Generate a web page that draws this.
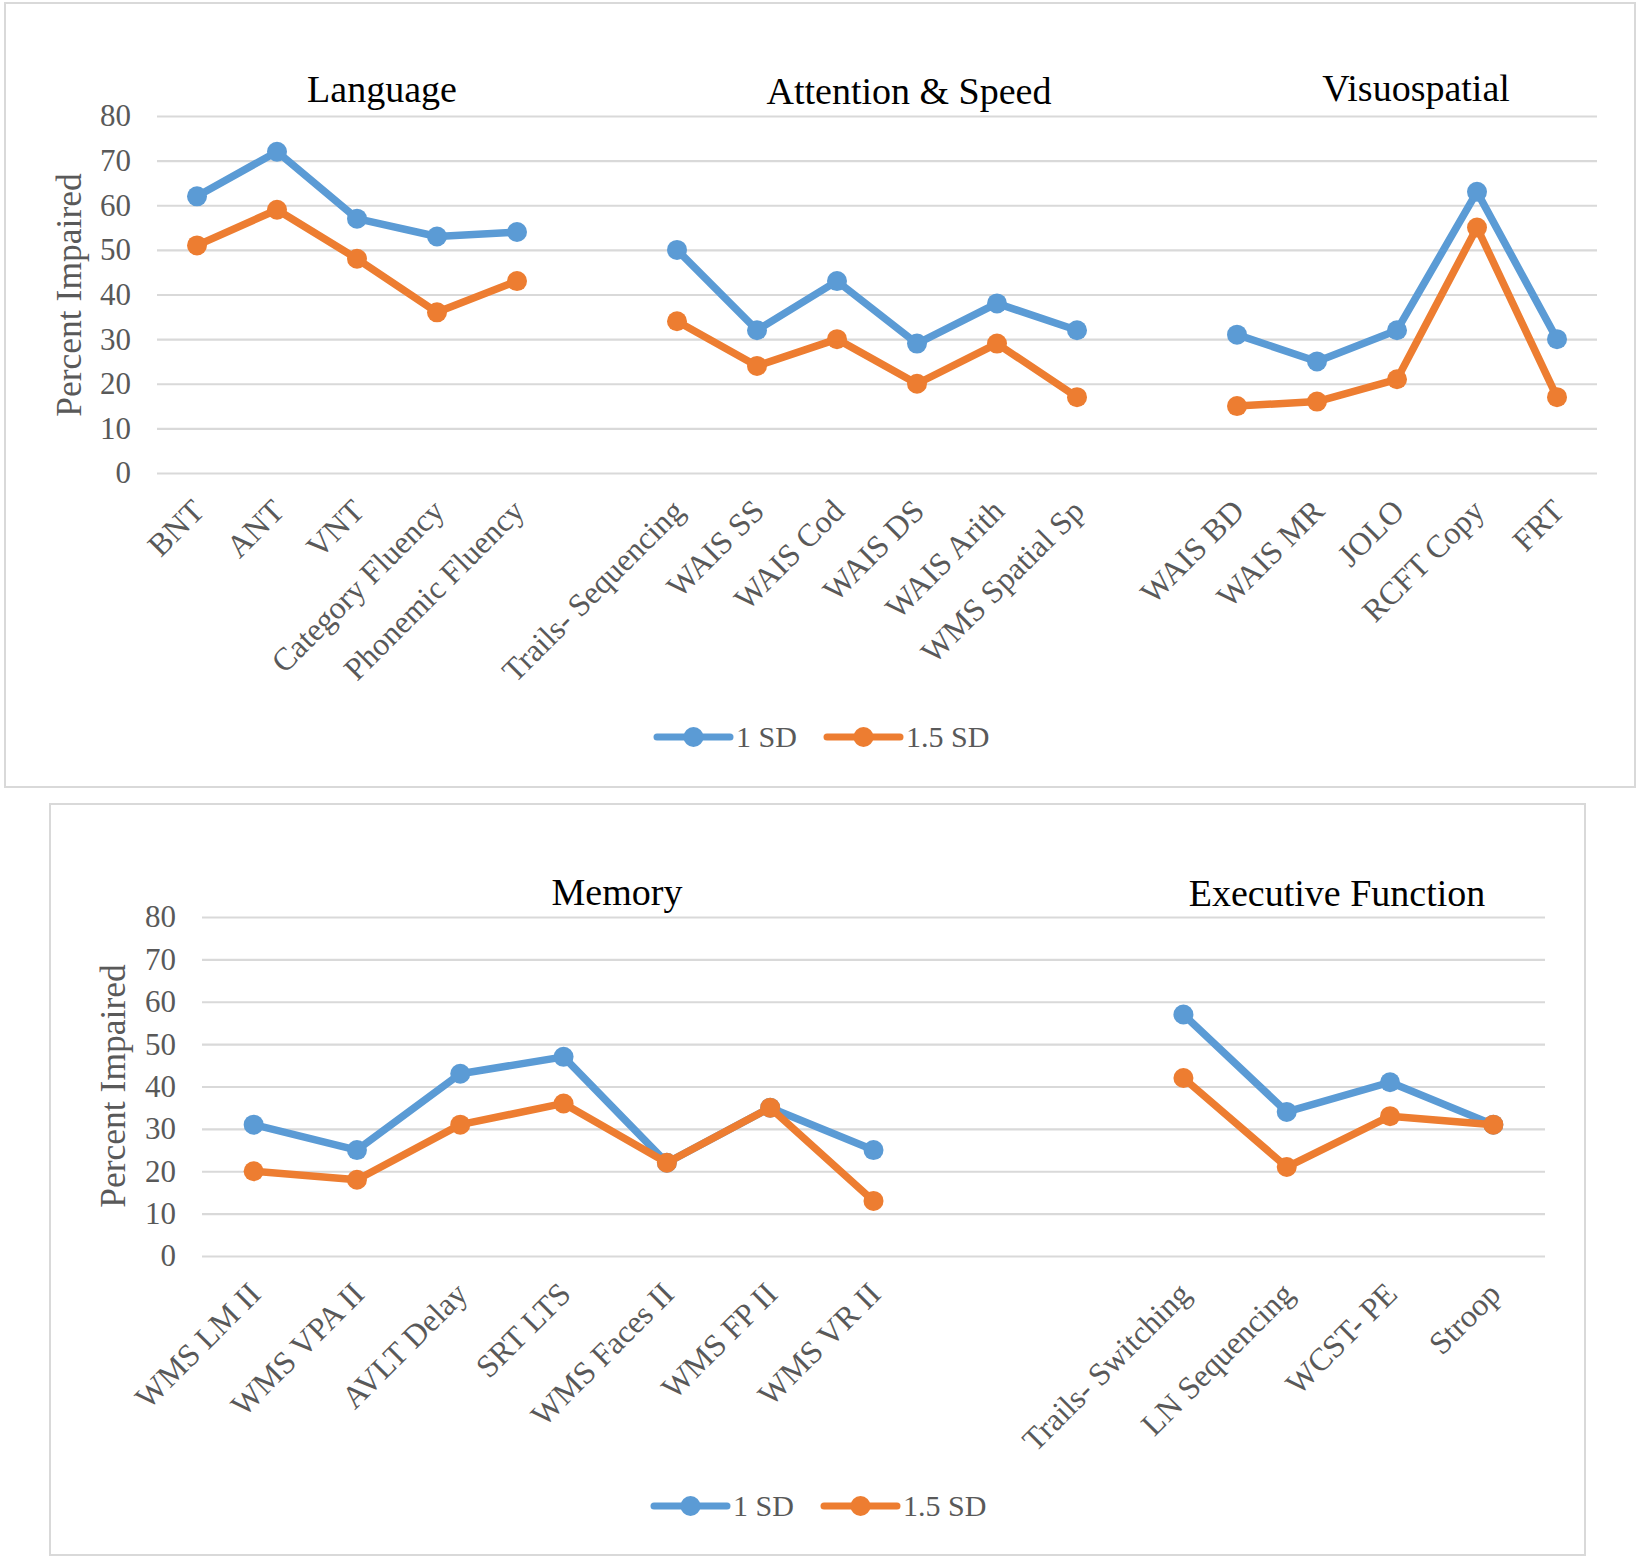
<!DOCTYPE html>
<html>
<head>
<meta charset="utf-8">
<script src="https://cdn.jsdelivr.net/npm/d3@7"></script>
<style>
  body { margin: 0; background: #fff; }
  text { font-family: 'Liberation Serif', 'Times New Roman', serif; }
</style>
</head>
<body>
<div id="chart"></div>
<script>
// test names and percent impaired per domain
const languageTests = ['BNT', 'ANT', 'VNT', 'Category Fluency', 'Phonemic Fluency']
const language1SD = [62, 72, 57, 53, 54]
const language15SD = [51, 59, 48, 36, 43]

const attentionTests = ['Trails- Sequencing', 'WAIS SS', 'WAIS Cod', 'WAIS DS', 'WAIS Arith', 'WMS Spatial Sp']
const attention1SD = [50, 32, 43, 29, 38, 32]
const attention15SD = [34, 24, 30, 20, 29, 17]

const visuoTests = ['WAIS BD', 'WAIS MR', 'JOLO', 'RCFT Copy', 'FRT']
const visuo1SD = [31, 25, 32, 63, 30]
const visuo15SD = [15, 16, 21, 55, 17]

const memoryTests = ['WMS LM II', 'WMS VPA II', 'AVLT Delay', 'SRT LTS', 'WMS Faces II', 'WMS FP II', 'WMS VR II']
const memory1SD = [31, 25, 43, 47, 22, 35, 25]
const memory15SD = [20, 18, 31, 36, 22, 35, 13]

const executiveTests = ['Trails- Switching', 'LN Sequencing', 'WCST- PE', 'Stroop']
const executive1SD = [57, 34, 41, 31]
const executive15SD = [42, 21, 33, 31]

const seriesNames = ['1 SD', '1.5 SD']
const yTicks = [0, 10, 20, 30, 40, 50, 60, 70, 80]

const colors = ['#5b9bd5', '#ed7d31']
const textGrey = '#595959'

const svg = d3
  .select('#chart')
  .append('svg')
  .attr('width', 1640)
  .attr('height', 1560)

const panels = [
  {
    frame: { x: 5, y: 3, w: 1630, h: 784 },
    plot: { left: 157, right: 1597, top: 116, bottom: 473 },
    gapSlots: 1,
    yLabel: { x: 81, y: 295 },
    legend: { x: 657, y: 737 },
    groups: [
      { title: 'Language', tx: 382, ty: 102, tests: languageTests, values: [language1SD, language15SD] },
      { title: 'Attention & Speed', tx: 909, ty: 104, tests: attentionTests, values: [attention1SD, attention15SD] },
      { title: 'Visuospatial', tx: 1416, ty: 101, tests: visuoTests, values: [visuo1SD, visuo15SD] }
    ]
  },
  {
    frame: { x: 50, y: 804, w: 1535, h: 751 },
    plot: { left: 202, right: 1545, top: 917, bottom: 1256 },
    gapSlots: 2,
    yLabel: { x: 125, y: 1086 },
    legend: { x: 654, y: 1506 },
    groups: [
      { title: 'Memory', tx: 617, ty: 905, tests: memoryTests, values: [memory1SD, memory15SD] },
      { title: 'Executive Function', tx: 1337, ty: 906, tests: executiveTests, values: [executive1SD, executive15SD] }
    ]
  }
]

panels.forEach(drawPanel)

function drawPanel(p) {
  svg
    .append('rect')
    .attr('x', p.frame.x)
    .attr('y', p.frame.y)
    .attr('width', p.frame.w)
    .attr('height', p.frame.h)
    .attr('fill', 'none')
    .attr('stroke', '#d9d9d9')
    .attr('stroke-width', 2)

  // slots: tests with blank slots between the domains
  const slots = []
  p.groups.forEach((g, i) => {
    if (i > 0) {
      for (let k = 0; k < p.gapSlots; k++) slots.push('_gap' + i + '_' + k)
    }
    g.tests.forEach(t => slots.push(t))
  })

  const xPositionScale = d3
    .scaleBand()
    .domain(slots)
    .range([p.plot.left, p.plot.right])
  const yPositionScale = d3
    .scaleLinear()
    .domain([0, 80])
    .range([p.plot.bottom, p.plot.top])

  const cx = d => xPositionScale(d) + xPositionScale.bandwidth() / 2

  const yAxis = d3
    .axisLeft(yPositionScale)
    .tickValues(yTicks)
    .tickSize(-(p.plot.right - p.plot.left))
    .tickPadding(26)
  const yg = svg
    .append('g')
    .attr('class', 'axis y-axis')
    .attr('transform', 'translate(' + p.plot.left + ',0)')
    .call(yAxis)
  yg.select('.domain').remove()
  yg.selectAll('line').attr('stroke', '#d9d9d9').attr('stroke-width', 2.2)
  yg.selectAll('text')
    .attr('font-size', 31)
    .attr('fill', textGrey)
    .style('font-family', "'Liberation Serif', serif")

  const xAxis = d3
    .axisBottom(xPositionScale)
    .tickSize(0)
    .tickFormat(d => (d.startsWith('_gap') ? '' : d))
  const xg = svg
    .append('g')
    .attr('class', 'axis x-axis')
    .attr('transform', 'translate(0,' + p.plot.bottom + ')')
    .call(xAxis)
  xg.select('.domain').remove()
  xg.selectAll('text')
    .attr('x', 0)
    .attr('y', 0)
    .attr('dy', 0)
    .attr('transform', 'translate(9,40) rotate(-45)')
    .attr('text-anchor', 'end')
    .attr('font-size', 32)
    .attr('fill', textGrey)
    .style('font-family', "'Liberation Serif', serif")

  svg
    .append('text')
    .text('Percent Impaired')
    .attr('transform', 'translate(' + p.yLabel.x + ',' + p.yLabel.y + ') rotate(-90)')
    .attr('text-anchor', 'middle')
    .attr('font-size', 35.5)
    .attr('fill', textGrey)

  const line = d3
    .line()
    .x(d => cx(d.test))
    .y(d => yPositionScale(d.value))

  seriesNames.forEach((name, s) => {
    p.groups.forEach(g => {
      const points = g.tests.map((t, i) => ({ test: t, value: g.values[s][i] }))
      svg
        .append('path')
        .datum(points)
        .attr('d', line)
        .attr('fill', 'none')
        .attr('stroke', colors[s])
        .attr('stroke-width', 7.5)
        .attr('stroke-linejoin', 'round')
      svg
        .append('g')
        .selectAll('circle')
        .data(points)
        .enter()
        .append('circle')
        .attr('cx', d => cx(d.test))
        .attr('cy', d => yPositionScale(d.value))
        .attr('r', 10)
        .attr('fill', colors[s])
    })
  })

  p.groups.forEach(g => {
    svg
      .append('text')
      .text(g.title)
      .attr('x', g.tx)
      .attr('y', g.ty)
      .attr('text-anchor', 'middle')
      .attr('font-size', 38)
      .attr('fill', '#000')
  })

  // legend
  const legend = svg
    .append('g')
    .attr('transform', 'translate(' + p.legend.x + ',' + p.legend.y + ')')
  seriesNames.forEach((name, s) => {
    const item = legend.append('g').attr('transform', 'translate(' + s * 170 + ',0)')
    item
      .append('line')
      .attr('x1', 0)
      .attr('x2', 73)
      .attr('stroke', colors[s])
      .attr('stroke-width', 7)
      .attr('stroke-linecap', 'round')
    item
      .append('circle')
      .attr('cx', 36.5)
      .attr('r', 10)
      .attr('fill', colors[s])
    item
      .append('text')
      .text(name)
      .attr('x', 79)
      .attr('y', 10)
      .attr('font-size', 30)
      .attr('fill', textGrey)
  })
}
</script>
</body>
</html>
